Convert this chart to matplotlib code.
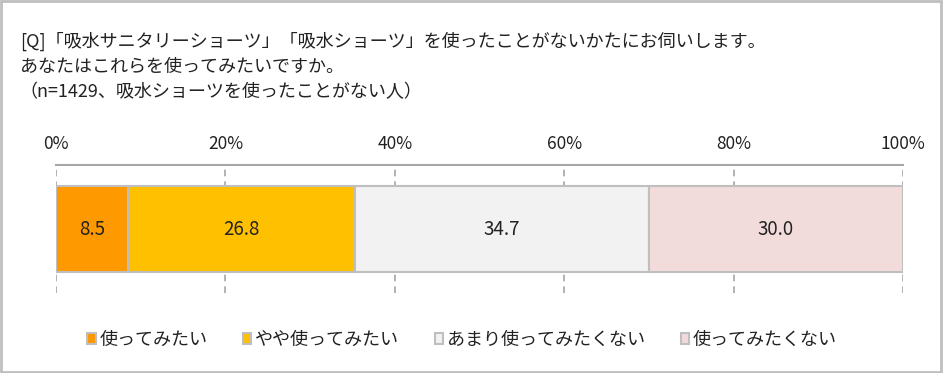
import matplotlib.pyplot as plt
from matplotlib.patches import Rectangle

plt.rcParams['font.family'] = ['Noto Sans CJK JP', 'DejaVu Sans']

# answer categories and shares (%)
categories = ['使ってみたい', 'やや使ってみたい', 'あまり使ってみたくない', '使ってみたくない']
values = [8.5, 26.8, 34.7, 30.0]
colors = ['#FF9900', '#FFC000', '#F2F2F2', '#F2DCDB']
ticks = [0, 20, 40, 60, 80, 100]
tick_labels = ['0%', '20%', '40%', '60%', '80%', '100%']

title = ('[Q]「吸水サニタリーショーツ」「吸水ショーツ」を使ったことがないかたにお伺いします。\n'
         'あなたはこれらを使ってみたいですか。\n'
         '（n=1429、吸水ショーツを使ったことがない人）')

fig = plt.figure(figsize=(9.43, 3.73), dpi=100)
fig.patches.append(Rectangle((0.001, 0.002), 0.997, 0.995, transform=fig.transFigure,
                             fill=False, edgecolor='#BFBFBF', linewidth=2))

ax = fig.add_axes([0.0594, 0.2145, 0.8982, 0.343])

left = 0
for cat, v, c in zip(categories, values, colors):
    ax.barh(0, v, left=left, height=0.672, color=c, edgecolor='#BFBFBF',
            linewidth=1.5, label=cat, zorder=3)
    ax.text(left + v / 2, 0, f'{v:.1f}', ha='center', va='center',
            fontsize=13.5, color='#222222', zorder=4)
    left += v

ax.set_xlim(0, 100)
ax.set_ylim(-0.5, 0.5)
ax.set_xticks(ticks)
ax.set_xticklabels(tick_labels)
ax.xaxis.tick_top()
ax.tick_params(axis='x', length=0, pad=9, labelsize=12.5, labelcolor='#222222')
ax.set_yticks([])
ax.grid(axis='x', color='#A6A6A6', linestyle=(0, (4, 3)), linewidth=1.2, zorder=1)
for s in ['left', 'right', 'bottom']:
    ax.spines[s].set_visible(False)
ax.spines['top'].set_color('#A6A6A6')
ax.spines['top'].set_linewidth(1.5)
ax.set_facecolor('none')

fig.text(0.021, 0.915, title, ha='left', va='top', fontsize=13,
         color='#222222', linespacing=1.5)

fig.legend(loc='center', bbox_to_anchor=(0.49, 0.088), ncol=4, frameon=False,
           fontsize=13, handlelength=0.45, handleheight=0.55, handletextpad=0.2,
           columnspacing=2.0, labelcolor='#222222')

fig.savefig('out.png', dpi=100)
